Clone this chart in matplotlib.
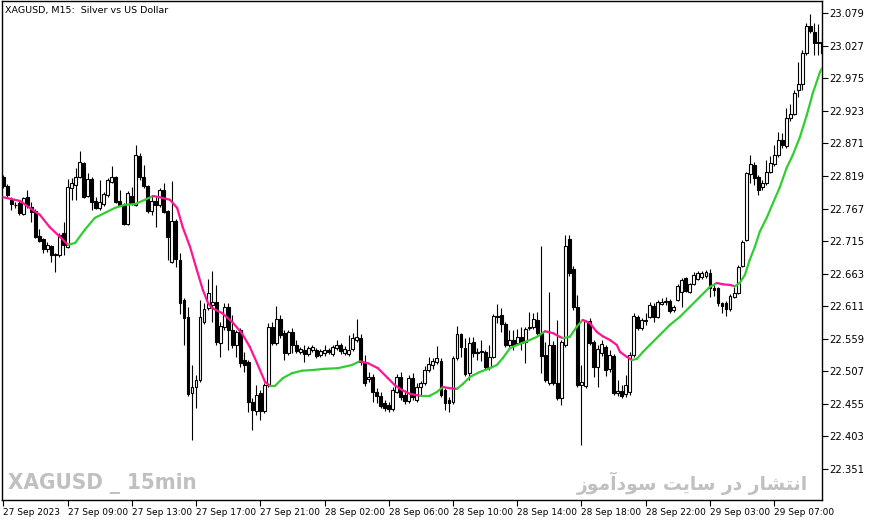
import matplotlib
matplotlib.use("Agg")
import matplotlib.pyplot as plt
import numpy as np
from matplotlib.collections import LineCollection

# XAGUSD M15 candles (27-29 Sep 2023), one entry per bar
opens = [22.817, 22.803, 22.781, 22.773, 22.776, 22.758, 22.785, 22.769, 22.763, 22.723,
         22.718, 22.702, 22.707, 22.693, 22.693, 22.728, 22.706, 22.800, 22.805, 22.817,
         22.840, 22.787, 22.814, 22.779, 22.768, 22.774, 22.789, 22.809, 22.817, 22.779,
         22.773, 22.742, 22.787, 22.773, 22.851, 22.817, 22.803, 22.763, 22.779, 22.773,
         22.797, 22.763, 22.682, 22.747, 22.685, 22.621, 22.594, 22.472, 22.482, 22.493,
         22.586, 22.608, 22.613, 22.618, 22.552, 22.578, 22.610, 22.573, 22.549, 22.573,
         22.525, 22.522, 22.458, 22.444, 22.472, 22.444, 22.485, 22.578, 22.552, 22.591,
         22.568, 22.536, 22.570, 22.549, 22.538, 22.541, 22.535, 22.541, 22.541, 22.533,
         22.536, 22.541, 22.535, 22.544, 22.549, 22.536, 22.535, 22.543, 22.557, 22.560,
         22.522, 22.495, 22.498, 22.474, 22.468, 22.456, 22.453, 22.447, 22.474, 22.498,
         22.469, 22.460, 22.496, 22.461, 22.482, 22.488, 22.509, 22.517, 22.522, 22.523,
         22.477, 22.461, 22.458, 22.528, 22.567, 22.544, 22.504, 22.554, 22.536, 22.538,
         22.538, 22.514, 22.530, 22.595, 22.597, 22.583, 22.549, 22.557, 22.552, 22.562,
         22.554, 22.576, 22.578, 22.589, 22.568, 22.533, 22.488, 22.549, 22.488, 22.464,
         22.549, 22.718, 22.670, 22.610, 22.485, 22.484, 22.587, 22.554, 22.514, 22.536,
         22.546, 22.511, 22.531, 22.472, 22.476, 22.471, 22.474, 22.533, 22.594, 22.576,
         22.587, 22.594, 22.611, 22.594, 22.615, 22.618, 22.619, 22.605, 22.621, 22.634,
         22.656, 22.634, 22.646, 22.654, 22.658, 22.659, 22.664, 22.640, 22.640, 22.616,
         22.616, 22.607, 22.626, 22.632, 22.675, 22.717, 22.822, 22.836, 22.817, 22.801,
         22.808, 22.825, 22.838, 22.852, 22.876, 22.867, 22.912, 22.918, 22.956, 22.966,
         23.015, 23.058, 23.049, 23.033, 23.033]
highs = [22.821, 22.806, 22.785, 22.777, 22.779, 22.785, 22.797, 22.777, 22.766, 22.734,
         22.720, 22.714, 22.709, 22.696, 22.728, 22.745, 22.814, 22.816, 22.832, 22.859,
         22.841, 22.824, 22.817, 22.785, 22.813, 22.793, 22.816, 22.835, 22.819, 22.797,
         22.776, 22.795, 22.801, 22.868, 22.856, 22.836, 22.805, 22.789, 22.785, 22.800,
         22.808, 22.765, 22.811, 22.750, 22.696, 22.624, 22.610, 22.517, 22.501, 22.621,
         22.616, 22.654, 22.667, 22.645, 22.586, 22.616, 22.616, 22.597, 22.573, 22.576,
         22.538, 22.525, 22.464, 22.485, 22.477, 22.488, 22.584, 22.586, 22.611, 22.597,
         22.573, 22.573, 22.576, 22.557, 22.546, 22.549, 22.547, 22.549, 22.544, 22.543,
         22.549, 22.544, 22.549, 22.557, 22.552, 22.547, 22.565, 22.568, 22.591, 22.567,
         22.533, 22.506, 22.503, 22.480, 22.474, 22.461, 22.458, 22.482, 22.503, 22.506,
         22.477, 22.501, 22.504, 22.488, 22.492, 22.515, 22.530, 22.528, 22.547, 22.528,
         22.480, 22.466, 22.531, 22.579, 22.568, 22.560, 22.562, 22.562, 22.544, 22.557,
         22.541, 22.549, 22.599, 22.615, 22.608, 22.586, 22.573, 22.573, 22.575, 22.578,
         22.578, 22.602, 22.600, 22.602, 22.707, 22.554, 22.634, 22.555, 22.589, 22.557,
         22.725, 22.725, 22.675, 22.629, 22.517, 22.589, 22.592, 22.557, 22.549, 22.557,
         22.549, 22.541, 22.535, 22.493, 22.485, 22.501, 22.538, 22.600, 22.597, 22.592,
         22.600, 22.618, 22.616, 22.621, 22.624, 22.626, 22.623, 22.613, 22.646, 22.656,
         22.658, 22.648, 22.666, 22.667, 22.667, 22.669, 22.670, 22.645, 22.642, 22.618,
         22.619, 22.630, 22.642, 22.677, 22.717, 22.825, 22.852, 22.841, 22.821, 22.813,
         22.844, 22.851, 22.868, 22.889, 22.888, 22.928, 22.934, 22.956, 23.001, 23.020,
         23.063, 23.078, 23.063, 23.062, 23.044]
lows = [22.800, 22.785, 22.765, 22.768, 22.757, 22.757, 22.768, 22.745, 22.720, 22.714,
        22.696, 22.698, 22.682, 22.666, 22.690, 22.693, 22.704, 22.781, 22.781, 22.816,
        22.784, 22.785, 22.765, 22.766, 22.765, 22.771, 22.785, 22.808, 22.776, 22.771,
        22.741, 22.741, 22.773, 22.771, 22.813, 22.800, 22.760, 22.757, 22.737, 22.769,
        22.760, 22.685, 22.680, 22.674, 22.599, 22.549, 22.468, 22.397, 22.448, 22.490,
        22.583, 22.605, 22.586, 22.549, 22.530, 22.573, 22.541, 22.544, 22.530, 22.514,
        22.506, 22.442, 22.413, 22.437, 22.429, 22.440, 22.482, 22.549, 22.549, 22.560,
        22.525, 22.533, 22.536, 22.536, 22.535, 22.522, 22.531, 22.538, 22.528, 22.530,
        22.531, 22.535, 22.531, 22.541, 22.535, 22.533, 22.531, 22.539, 22.554, 22.517,
        22.484, 22.490, 22.458, 22.456, 22.448, 22.444, 22.442, 22.444, 22.472, 22.461,
        22.455, 22.456, 22.461, 22.458, 22.469, 22.485, 22.506, 22.511, 22.519, 22.466,
        22.445, 22.442, 22.455, 22.525, 22.530, 22.500, 22.493, 22.530, 22.525, 22.523,
        22.511, 22.509, 22.528, 22.584, 22.570, 22.546, 22.544, 22.541, 22.549, 22.541,
        22.520, 22.573, 22.575, 22.565, 22.504, 22.490, 22.485, 22.485, 22.461, 22.453,
        22.546, 22.659, 22.605, 22.482, 22.389, 22.480, 22.549, 22.498, 22.482, 22.531,
        22.500, 22.506, 22.469, 22.468, 22.464, 22.466, 22.469, 22.530, 22.573, 22.573,
        22.581, 22.592, 22.586, 22.592, 22.613, 22.613, 22.600, 22.602, 22.619, 22.610,
        22.634, 22.632, 22.645, 22.653, 22.654, 22.656, 22.626, 22.627, 22.611, 22.600,
        22.595, 22.603, 22.624, 22.630, 22.674, 22.715, 22.808, 22.805, 22.789, 22.797,
        22.805, 22.824, 22.835, 22.849, 22.864, 22.864, 22.907, 22.916, 22.945, 22.956,
        23.012, 23.047, 23.012, 23.012, 23.012]
closes = [22.803, 22.789, 22.774, 22.772, 22.760, 22.784, 22.773, 22.761, 22.722, 22.715,
          22.702, 22.709, 22.693, 22.694, 22.725, 22.709, 22.801, 22.808, 22.817, 22.841,
          22.785, 22.814, 22.777, 22.768, 22.777, 22.790, 22.813, 22.817, 22.777, 22.773,
          22.742, 22.792, 22.776, 22.852, 22.817, 22.803, 22.763, 22.779, 22.773, 22.797,
          22.761, 22.722, 22.747, 22.686, 22.616, 22.592, 22.471, 22.482, 22.493, 22.594,
          22.607, 22.632, 22.618, 22.554, 22.579, 22.610, 22.573, 22.549, 22.570, 22.520,
          22.517, 22.458, 22.445, 22.469, 22.444, 22.485, 22.578, 22.552, 22.591, 22.565,
          22.536, 22.570, 22.549, 22.539, 22.543, 22.535, 22.544, 22.546, 22.531, 22.539,
          22.541, 22.538, 22.546, 22.549, 22.539, 22.543, 22.541, 22.560, 22.562, 22.522,
          22.488, 22.498, 22.474, 22.468, 22.452, 22.448, 22.447, 22.477, 22.498, 22.466,
          22.460, 22.496, 22.466, 22.482, 22.488, 22.509, 22.519, 22.523, 22.528, 22.469,
          22.456, 22.456, 22.528, 22.567, 22.546, 22.503, 22.552, 22.536, 22.538, 22.539,
          22.514, 22.530, 22.595, 22.594, 22.583, 22.549, 22.557, 22.549, 22.562, 22.552,
          22.575, 22.578, 22.591, 22.568, 22.531, 22.493, 22.549, 22.488, 22.464, 22.554,
          22.707, 22.664, 22.610, 22.485, 22.490, 22.587, 22.552, 22.514, 22.543, 22.551,
          22.509, 22.533, 22.472, 22.476, 22.468, 22.485, 22.533, 22.595, 22.576, 22.589,
          22.589, 22.613, 22.594, 22.618, 22.618, 22.619, 22.603, 22.610, 22.643, 22.653,
          22.635, 22.646, 22.661, 22.664, 22.664, 22.666, 22.640, 22.637, 22.616, 22.611,
          22.607, 22.627, 22.632, 22.674, 22.714, 22.824, 22.838, 22.816, 22.797, 22.808,
          22.825, 22.840, 22.852, 22.876, 22.868, 22.912, 22.918, 22.951, 22.966, 23.015,
          23.058, 23.050, 23.031, 23.031, 23.015]

# smoothed moving average (bar position, price)
ma_bar = [0, 4.2, 6.6, 9.1, 11.6, 14.1, 16.1, 17.9, 20.3, 22.8,
          25.3, 27.8, 30.3, 32.8, 35.3, 37.3, 39.0, 41.5, 43.3, 44.7,
          46.5, 48.2, 49.7, 51.0, 52.0, 54.5, 57.0, 59.4, 61.4, 63.2,
          65.2, 66.4, 67.7, 69.6, 71.9, 74.4, 76.9, 80.1, 83.3, 86.8,
          88.8, 90.8, 93.3, 95.8, 97.5, 99.3, 101.3, 103.8, 106.2, 108.0,
          109.5, 111.2, 113.0, 114.5, 116.2, 118.7, 121.2, 122.9, 124.4, 126.2,
          127.9, 130.4, 132.9, 134.9, 136.9, 138.6, 139.4, 141.1, 142.8, 144.3,
          146.1, 147.8, 149.3, 151.1, 152.8, 153.6, 155.3, 156.6, 157.8, 159.3,
          161.0, 163.5, 166.0, 168.5, 171.0, 173.5, 176.0, 177.7, 179.2, 180.9,
          182.2, 183.4, 184.7, 185.9, 187.2, 188.4, 190.2, 191.7, 193.4, 195.1,
          196.6, 198.4, 200.1, 201.6, 203.4, 203.9]
ma_val = [22.785, 22.779, 22.768, 22.757, 22.737, 22.722, 22.709, 22.712, 22.733, 22.752,
          22.760, 22.768, 22.773, 22.774, 22.781, 22.787, 22.785, 22.781, 22.768, 22.737,
          22.706, 22.669, 22.637, 22.616, 22.608, 22.600, 22.586, 22.568, 22.546, 22.520,
          22.490, 22.484, 22.484, 22.496, 22.504, 22.508, 22.509, 22.511, 22.512, 22.517,
          22.523, 22.520, 22.512, 22.496, 22.485, 22.477, 22.471, 22.468, 22.468, 22.474,
          22.482, 22.480, 22.479, 22.487, 22.498, 22.506, 22.512, 22.517, 22.528, 22.544,
          22.549, 22.555, 22.562, 22.571, 22.568, 22.562, 22.560, 22.562, 22.578, 22.589,
          22.584, 22.570, 22.563, 22.557, 22.549, 22.538, 22.530, 22.525, 22.527, 22.538,
          22.549, 22.565, 22.581, 22.594, 22.610, 22.626, 22.642, 22.648, 22.646, 22.645,
          22.643, 22.648, 22.661, 22.685, 22.706, 22.730, 22.753, 22.776, 22.801, 22.832,
          22.852, 22.881, 22.916, 22.951, 22.985, 22.991]

price_ticks = [23.079, 23.027, 22.975, 22.923, 22.871, 22.819, 22.767, 22.715,
               22.663, 22.611, 22.559, 22.507, 22.455, 22.403, 22.351]
time_tick_bars = [0, 16, 32, 48, 64, 80, 96, 112, 128, 144, 160, 176, 192]
time_tick_labels = ["27 Sep 2023", "27 Sep 09:00", "27 Sep 13:00", "27 Sep 17:00",
                    "27 Sep 21:00", "28 Sep 02:00", "28 Sep 06:00", "28 Sep 10:00",
                    "28 Sep 14:00", "28 Sep 18:00", "28 Sep 22:00", "29 Sep 03:00",
                    "29 Sep 07:00"]

W, H = 871, 522
fig = plt.figure(figsize=(W / 100, H / 100), dpi=100)
fig.patch.set_facecolor("white")
ax = fig.add_axes([2 / W, 22 / H, 820 / W, 499 / H])
ax.set_facecolor("white")

o = np.array(opens)
h = np.array(highs)
l = np.array(lows)
c = np.array(closes)
x = np.arange(len(o))

# wicks then bodies
ax.vlines(x, l, h, color="black", linewidth=0.8, zorder=2)
up = c >= o
body_bottom = np.minimum(o, c)
body_height = np.maximum(np.abs(c - o), 0.0004)
ax.bar(x[up], body_height[up], bottom=body_bottom[up], width=0.72,
       facecolor="white", edgecolor="black", linewidth=0.8, zorder=3)
ax.bar(x[~up], body_height[~up], bottom=body_bottom[~up], width=0.72,
       facecolor="black", edgecolor="black", linewidth=0.8, zorder=3)

# MA coloured by direction
mb = np.array(ma_bar)
mv = np.array(ma_val)
segs = np.stack([np.column_stack([mb[:-1], mv[:-1]]),
                 np.column_stack([mb[1:], mv[1:]])], axis=1)
seg_colors = ["#32CD32" if d >= 0 else "#FF1493" for d in np.diff(mv)]
ax.add_collection(LineCollection(segs, colors=seg_colors, linewidths=1.6,
                                 capstyle="round", zorder=4))

ax.set_xlim(-0.32, 203.9)
ax.set_ylim(22.3015, 23.0984)

for s in ax.spines.values():
    s.set_color("black")
    s.set_linewidth(1.0)

ax.yaxis.tick_right()
ax.set_yticks(price_ticks)
ax.set_yticklabels([f"{p:.3f}" for p in price_ticks])
ax.tick_params(axis="y", direction="out", length=4, width=0.8, pad=1.5,
               labelsize=7.2, colors="black")

ax.set_xticks(time_tick_bars)
ax.set_xticklabels(time_tick_labels)
ax.tick_params(axis="x", direction="out", length=4, width=0.8, pad=1.5,
               labelsize=6.5, colors="black")
for lab in ax.get_xticklabels():
    lab.set_ha("left")

fig.text(5 / W, 1 - 10 / H, "XAGUSD, M15:  Silver vs US Dollar",
         fontsize=6.8, va="center", ha="left", color="black")

fig.text(8 / W, 1 - 483 / H, "XAGUSD _ 15min", fontsize=16, fontweight="bold",
         fontstretch="condensed", color="#C0C0C0", va="center", ha="left")

# "انتشار در سایت سودآموز" in shaped presentation forms, visual order
persian = ("\ufeaf\ufeee\ufee3\ufe81\ufea9\ufeee\ufeb3 \ufe96\ufef3\ufe8e\ufeb3 "
           "\ufead\ufea9 \ufead\ufe8e\ufeb8\ufe98\ufee7\ufe8d")
fig.text(808 / W, 1 - 483 / H, persian, fontsize=13.5, fontweight="bold",
         family="DejaVu Sans", color="#C0C0C0", va="center", ha="right")

fig.savefig("out.png", dpi=100, facecolor="white")
